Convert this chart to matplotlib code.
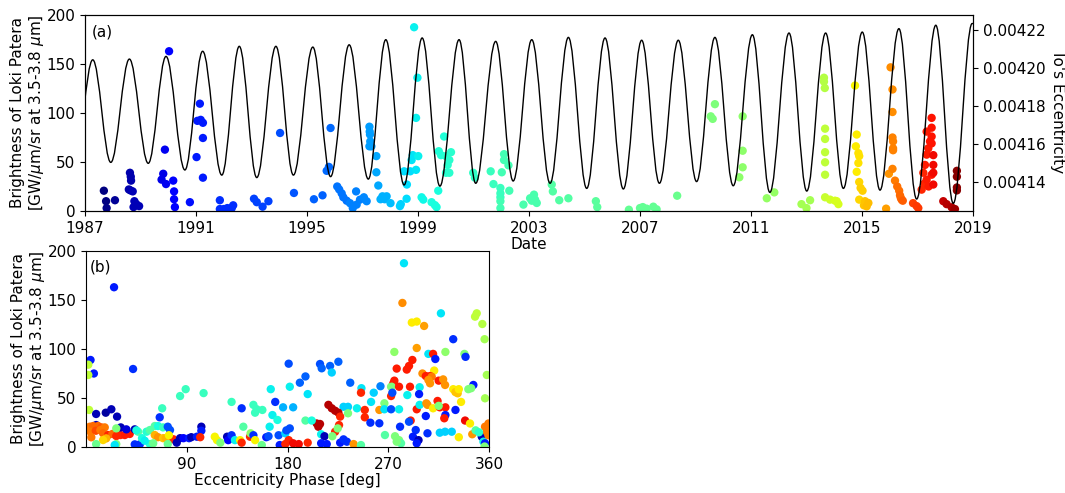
import matplotlib
matplotlib.use("Agg")
import matplotlib.pyplot as plt
from matplotlib.path import Path
from matplotlib.patches import PathPatch
from matplotlib.ticker import FormatStrFormatter

# ---------------- data ----------------
# panel (a): observation date, brightness, colour value (0..1 on jet)
date_a = [1987.68, 1987.76, 1987.78, 1988.08, 1988.62, 1988.65, 1988.66, 1988.58, 1988.64, 1988.72,
          1988.78, 1988.85, 1988.75, 1988.95, 1989.76, 1989.82, 1989.88, 1989.92, 1990.03, 1990.18,
          1990.21, 1990.21, 1990.24, 1990.78, 1991.02, 1991.05, 1991.14, 1991.17, 1991.25, 1991.25,
          1991.25, 1991.86, 1991.86, 1992.00, 1992.13, 1992.29, 1992.34, 1993.09, 1993.19, 1993.40,
          1993.61, 1994.03, 1994.53, 1995.25, 1995.56, 1995.71, 1995.79, 1995.85, 1996.09, 1996.16,
          1996.25, 1996.31, 1996.43, 1996.55, 1996.65, 1996.77, 1996.79, 1996.91, 1997.05, 1997.15,
          1997.25, 1997.26, 1997.27, 1997.28, 1997.25, 1997.32, 1997.50, 1997.50, 1997.57, 1997.65,
          1997.72, 1997.80, 1997.87, 1998.01, 1998.35, 1998.38, 1998.50, 1998.59, 1998.60, 1998.72,
          1998.77, 1998.81, 1998.86, 1998.93, 1998.93, 1998.98, 1999.01, 1999.13, 1999.19, 1999.49,
          1999.61, 1999.67, 1999.73, 1999.75, 1999.83, 1999.94, 2000.01, 2000.01, 2000.07, 2000.13,
          2000.13, 2000.19, 2000.99, 2001.05, 2001.62, 2001.72, 2001.97, 2001.97, 2001.97, 2001.97,
          2001.97, 2002.02, 2002.10, 2002.10, 2002.26, 2002.29, 2002.80, 2003.04, 2003.10, 2003.18,
          2003.22, 2003.28, 2003.82, 2003.86, 2004.09, 2004.42, 2005.41, 2005.46, 2006.60, 2007.00,
          2007.10, 2007.24, 2007.48, 2007.60, 2008.34, 2009.55, 2009.62, 2009.70, 2010.58, 2010.70,
          2010.70, 2010.70, 2011.57, 2011.84, 2012.82, 2013.00, 2013.13, 2013.63, 2013.63, 2013.66,
          2013.67, 2013.67, 2013.67, 2013.67, 2013.67, 2013.67, 2013.85, 2014.03, 2014.09, 2014.15,
          2014.75, 2014.78, 2014.81, 2014.81, 2014.87, 2014.87, 2014.90, 2014.90, 2014.90, 2014.95,
          2015.02, 2015.07, 2015.11, 2015.17, 2015.23, 2015.87, 2015.97, 2016.03, 2016.10, 2016.10,
          2016.10, 2016.12, 2016.12, 2016.12, 2016.10, 2016.19, 2016.27, 2016.34, 2016.37, 2016.40,
          2016.43, 2016.47, 2016.84, 2016.97, 2017.03, 2017.15, 2017.21, 2017.25, 2017.27, 2017.33,
          2017.33, 2017.33, 2017.39, 2017.40, 2017.45, 2017.51, 2017.51, 2017.51, 2017.51, 2017.51,
          2017.57, 2017.57, 2017.57, 2017.57, 2017.93, 2018.05, 2018.23, 2018.35, 2018.42, 2018.42,
          2018.42, 2018.42]
bright_a = [20.7, 10, 3, 11, 39, 35, 31, 22, 21, 20,
            10, 7, 4, 5, 32, 38, 62.6, 27.5, 163, 31,
            20, 12, 4, 9, 55, 92, 109.5, 93, 90, 74.5,
            34, 11, 2, 2, 3, 3, 5.8, 12.5, 9, 4.4,
            10, 79.6, 18.4, 12, 16, 41, 45, 84.7, 25, 22,
            18, 14, 10.5, 8, 3, 20, 6.5, 11.6, 14, 10,
            86, 81, 78, 71, 66, 66, 56, 39.5, 26, 12,
            15, 12, 15, 8, 5, 7, 40.5, 12.5, 27, 40.5,
            52, 57, 187.5, 42, 95, 136, 56, 14, 11.6, 9,
            6, 4, 20.7, 61, 57, 76, 56, 39, 47, 52,
            39, 60, 39, 34, 40.5, 27.5, 23.5, 18, 14, 10,
            3, 39.5, 58, 52, 46.6, 20.7, 6.5, 13, 10.5, 16.7,
            11.6, 8.2, 27, 20, 11, 13, 10, 4, 1.3, 3,
            4, 2.4, 4.4, 1.7, 15.6, 96.6, 94, 109, 34.4, 44.6,
            61.5, 96.6, 13, 19, 7, 3, 11, 136, 132, 125.5,
            84, 73.5, 60, 49.7, 37, 14, 11.6, 10.5, 10, 7,
            128, 66, 78, 40, 59, 49, 56, 29.6, 11.6, 23.5,
            20.7, 5.8, 10, 4.8, 8.2, 2.4, 38, 146.6, 124, 101,
            75, 71, 64, 62, 43, 31, 25, 20.7, 16, 13.3,
            11.5, 10.5, 8, 5, 3, 21.8, 39, 28, 47, 57.5,
            81, 32, 64, 25, 71, 76, 85, 95, 69, 37,
            57, 47, 39, 27, 10, 7, 3.8, 2, 41, 35,
            24, 21]
color_a = [0.00, 0.00, 0.01, 0.02, 0.04, 0.04, 0.04, 0.04, 0.04, 0.05,
           0.05, 0.05, 0.05, 0.05, 0.09, 0.09, 0.10, 0.10, 0.12, 0.12,
           0.12, 0.12, 0.12, 0.14, 0.15, 0.15, 0.15, 0.15, 0.15, 0.15,
           0.15, 0.17, 0.17, 0.17, 0.17, 0.17, 0.17, 0.19, 0.19, 0.19,
           0.19, 0.20, 0.21, 0.22, 0.22, 0.23, 0.23, 0.23, 0.24, 0.24,
           0.24, 0.24, 0.24, 0.25, 0.25, 0.25, 0.25, 0.25, 0.26, 0.26,
           0.28, 0.28, 0.28, 0.28, 0.28, 0.28, 0.29, 0.29, 0.29, 0.30,
           0.30, 0.30, 0.30, 0.31, 0.33, 0.33, 0.34, 0.34, 0.34, 0.34,
           0.35, 0.35, 0.36, 0.35, 0.36, 0.36, 0.36, 0.37, 0.37, 0.38,
           0.38, 0.38, 0.38, 0.39, 0.39, 0.39, 0.40, 0.40, 0.40, 0.40,
           0.40, 0.40, 0.41, 0.41, 0.42, 0.42, 0.42, 0.42, 0.42, 0.43,
           0.43, 0.43, 0.43, 0.43, 0.43, 0.43, 0.44, 0.44, 0.44, 0.44,
           0.44, 0.44, 0.45, 0.45, 0.45, 0.45, 0.46, 0.46, 0.47, 0.47,
           0.47, 0.47, 0.47, 0.47, 0.48, 0.50, 0.50, 0.50, 0.52, 0.52,
           0.52, 0.52, 0.53, 0.53, 0.55, 0.55, 0.55, 0.57, 0.57, 0.57,
           0.58, 0.58, 0.58, 0.58, 0.58, 0.59, 0.60, 0.61, 0.61, 0.61,
           0.65, 0.66, 0.66, 0.66, 0.67, 0.67, 0.67, 0.68, 0.68, 0.69,
           0.69, 0.70, 0.70, 0.71, 0.71, 0.74, 0.75, 0.76, 0.76, 0.76,
           0.77, 0.77, 0.77, 0.77, 0.77, 0.78, 0.79, 0.79, 0.80, 0.80,
           0.80, 0.81, 0.84, 0.85, 0.85, 0.87, 0.87, 0.87, 0.88, 0.88,
           0.88, 0.88, 0.88, 0.88, 0.89, 0.89, 0.89, 0.89, 0.89, 0.89,
           0.90, 0.90, 0.90, 0.90, 0.94, 0.95, 0.96, 0.97, 0.99, 0.99,
           0.99, 0.99]

# Io's eccentricity: successive extrema (date, eccentricity)
ecc_date = [1986.62, 1987.28, 1987.93, 1988.60, 1989.28, 1989.92, 1990.60, 1991.24, 1991.93, 1992.56,
            1993.19, 1993.88, 1994.51, 1995.21, 1995.85, 1996.52, 1997.21, 1997.84, 1998.50, 1999.15,
            1999.79, 2000.48, 2001.08, 2001.80, 2002.43, 2003.10, 2003.76, 2004.42, 2005.08, 2005.74,
            2006.40, 2007.06, 2007.70, 2008.38, 2009.04, 2009.70, 2010.36, 2011.05, 2011.68, 2012.37,
            2013.01, 2013.69, 2014.33, 2015.01, 2015.65, 2016.33, 2016.97, 2017.66, 2018.29, 2018.97]
ecc_value = [0.0041500, 0.0042043, 0.0041503, 0.0042047, 0.0041498, 0.0042061, 0.0041463, 0.0042088,
             0.0041436, 0.0042114, 0.0041423, 0.0042114, 0.0041436, 0.0042110, 0.0041428, 0.0042122,
             0.0041415, 0.0042149, 0.0041384, 0.0042158, 0.0041378, 0.0042149, 0.0041393, 0.0042140,
             0.0041405, 0.0042149, 0.0041393, 0.0042161, 0.0041366, 0.0042158, 0.0041363, 0.0042146,
             0.0041393, 0.0042146, 0.0041402, 0.0042161, 0.0041380, 0.0042175, 0.0041345, 0.0042184,
             0.0041352, 0.0042184, 0.0041366, 0.0042189, 0.0041357, 0.0042207, 0.0041310, 0.0042225,
             0.0041287, 0.0042234]

# panel (b): eccentricity phase, brightness, colour value
phase_b = [4, 2, 7, 2, 25, 42, 2.7, 9, 17.6, 22.6, 27.7, 9,
           3.3, 6.3, 10.7, 13.7, 16.7, 3.9, 8.7, 12.8, 15.2, 19.7, 23.5, 27, 30.7, 34.6, 39, 18, 4.7, 15.2,
           31, 36, 43.5, 27, 46.5, 54, 57, 61.4, 64.3, 68.8, 73, 75, 61.4, 64.3, 68.8, 71.2, 78, 74,
           84, 87, 92, 81, 43.5, 48, 57, 60, 73, 27, 25.6, 9, 50, 52.4, 45, 68, 65.8, 84, 89,
           105, 94, 99, 103, 103, 102, 115, 117, 120, 126, 127, 130, 130, 133, 137.6, 139, 140.5, 139,
           146.5, 147, 149.5, 151, 149.5, 152.5, 151, 157.5, 157, 161, 163, 165, 169, 166.5, 171, 164,
           172, 176, 178, 179, 181, 182, 182, 173, 178, 181,
           209, 210.5, 218, 225.4, 219.5, 196, 191, 198, 185, 236, 246, 257, 263, 245.6, 254.6, 266.5,
           272.5, 272.5, 230, 234, 242, 216.5, 219.5, 222.5, 225.4, 227, 234, 249, 249, 254, 262, 262,
           266.5, 206, 209, 207.5, 196, 201.6, 226, 222.5, 224.8, 210, 213, 220, 185, 190, 198, 210,
           215, 227, 230, 233, 239, 245.6, 267,
           284, 282.6, 317, 291, 295.4, 302, 349, 347.5, 354, 356, 328, 295.4, 275.4, 321, 305.8, 310,
           312, 338, 339, 291.5, 288.5, 286.5, 277.5, 311, 300.5, 303.5, 307.3, 308.8, 358, 275.4,
           274.5, 305.8, 307.3, 315, 319, 320.7, 273, 279.6, 289.4, 298, 346, 344, 341.5, 328, 330,
           332, 333, 273.6, 287, 297.5, 314, 335, 356.4, 272.5, 279.6, 295.4, 298, 305, 304, 310,
           316, 321, 315, 330, 303.5, 321, 320, 338.6, 290, 288.5, 280.5, 294.5, 305, 316, 320.7,
           326.7, 333, 343, 276, 279.6, 281.4, 277.5, 292, 297, 295.4, 345, 353.5, 355, 356.4, 356.4,
           358, 359.4, 359.5, 348, 351, 356]
bright_b = [88.8, 84, 75, 73.5, 163, 79.6, 37.8, 33.7, 35, 38.5, 31, 22.4,
            20.7, 21.4, 21.4, 20, 20, 15.6, 16.6, 17.3, 14, 12.2, 13.3, 11.2, 12.2, 12.2, 13.3, 8.8, 9.9, 7.1,
            20, 18, 18, 19, 15.6, 15.6, 17.3, 21.4, 21.4, 20, 20.7, 17.3, 12.2, 10, 9, 9, 7.9, 12,
            9, 9, 9, 4.4, 2.7, 2.7, 3, 3.8, 3, 3, 2, 3, 9, 6.4, 17, 39.5, 30.3, 52, 59,
            55, 10, 10.5, 20.7, 16.6, 10, 10.5, 7, 4.4, 10.5, 7, 12, 46, 7, 7, 4.4, 20.7, 39.5,
            10.5, 14, 12, 7, 43, 38.5, 35, 37.8, 2, 10, 11, 59, 46, 32.6, 27.6, 20.7,
            12, 40.5, 14, 17, 85, 61.5, 19, 2, 3, 7,
            84.7, 80.3, 82.7, 87, 76, 72, 65.6, 54, 40.5, 65.6, 60, 55.4, 62, 55.4, 46, 44.6,
            52, 61.5, 41, 41, 39.5, 43, 39.5, 37, 35, 31, 34.4, 37.8, 30.3, 24.8, 24.2, 37.8,
            38.5, 24, 23.5, 20.7, 27, 27, 22.4, 15.6, 19, 13, 11, 11, 3.8, 3, 4.4, 3.8,
            3, 4.4, 7.8, 5.4, 3, 2, 12.2,
            187.5, 147, 136.4, 127, 128, 123.5, 136.4, 133, 125.5, 110, 110, 101, 97, 97, 95, 95,
            89.8, 95, 92, 88.8, 82.7, 79, 80, 78, 75, 72.4, 72.4, 71.7, 73.5, 67.7,
            65, 68.4, 65, 67.7, 69, 63.3, 61.5, 61.5, 61.5, 61, 63.3, 60, 59, 59, 56,
            54.8, 59, 55.4, 53, 54, 47, 46, 49.7, 38.5, 38.5, 38.5, 43, 43, 44.6, 39.5,
            40.5, 40.5, 42, 37.8, 31.6, 32.6, 29.3, 27, 27, 25.8, 20.7, 17.3, 14, 14.6, 15.6,
            15.6, 10, 24, 11, 7, 3.8, 5.4, 10.5, 7, 3.8, 13, 10.5, 5.4, 3.8, 20.7,
            15.6, 12, 24, 17, 15, 0.5]
color_b = [0.15, 0.58, 0.15, 0.58, 0.15, 0.17, 0.58, 0.05, 0.03, 0.05, 0.05, 0.05,
           0.78, 0.80, 0.80, 0.82, 0.78, 0.78, 0.83, 0.78, 0.80, 0.87, 0.80, 0.87, 0.87, 0.88, 0.88, 0.72, 0.78, 0.68,
           0.05, 0.08, 0.05, 0.50, 0.45, 0.40, 0.45, 0.45, 0.38, 0.42, 0.20, 0.20, 0.72, 0.75, 0.70, 0.72, 0.87, 0.65,
           0.05, 0.12, 0.15, 0.05, 0.17, 0.17, 0.40, 0.48, 0.48, 0.50, 0.35, 0.48, 0.38, 0.36, 0.38, 0.42, 0.17, 0.42, 0.42,
           0.42, 0.05, 0.15, 0.05, 0.15, 0.87, 0.65, 0.65, 0.50, 0.05, 0.12, 0.17, 0.42, 0.36, 0.65, 0.87, 0.45, 0.17,
           0.87, 0.52, 0.17, 0.65, 0.42, 0.42, 0.42, 0.42, 0.48, 0.15, 0.20, 0.36, 0.17, 0.36, 0.38, 0.36,
           0.20, 0.30, 0.33, 0.20, 0.20, 0.36, 0.20, 0.15, 0.87, 0.87,
           0.20, 0.22, 0.22, 0.22, 0.33, 0.22, 0.22, 0.35, 0.30, 0.22, 0.35, 0.33, 0.25, 0.87, 0.35, 0.50,
           0.87, 0.50, 0.33, 0.33, 0.36, 0.95, 0.95, 0.95, 0.95, 0.87, 0.50, 0.87, 0.87, 0.17, 0.17, 0.75,
           0.35, 0.95, 0.95, 0.95, 0.45, 0.38, 0.87, 0.87, 0.50, 0.36, 0.05, 0.50, 0.90, 0.90, 0.87, 0.15,
           0.15, 0.15, 0.17, 0.17, 0.75, 0.45, 0.45,
           0.35, 0.76, 0.35, 0.66, 0.66, 0.74, 0.58, 0.58, 0.57, 0.55, 0.17, 0.74, 0.52, 0.52, 0.35, 0.88,
           0.15, 0.50, 0.17, 0.88, 0.88, 0.88, 0.88, 0.66, 0.76, 0.88, 0.88, 0.78, 0.55, 0.88,
           0.88, 0.75, 0.75, 0.88, 0.75, 0.75, 0.50, 0.88, 0.88, 0.36, 0.15, 0.50, 0.50, 0.66, 0.70,
           0.70, 0.66, 0.20, 0.36, 0.15, 0.88, 0.66, 0.55, 0.20, 0.36, 0.88, 0.36, 0.75, 0.75, 0.66,
           0.88, 0.88, 0.50, 0.15, 0.15, 0.15, 0.88, 0.90, 0.88, 0.20, 0.17, 0.17, 0.17, 0.33, 0.33,
           0.33, 0.66, 0.66, 0.50, 0.50, 0.45, 0.50, 0.15, 0.05, 0.15, 0.75, 0.05, 0.36, 0.15, 0.78,
           0.78, 0.78, 0.78, 0.45, 0.40, 0.50]

year_ticks = [1987, 1991, 1995, 1999, 2003, 2007, 2011, 2015, 2019]
bright_ticks = [0, 50, 100, 150, 200]
ecc_ticks = [0.00414, 0.00416, 0.00418, 0.00420, 0.00422]
phase_ticks = [90, 180, 270, 360]

ylabel_text = "Brightness of Loki Patera\n[GW/$\\mu$m/sr at 3.5-3.8 $\\mu$m]"

# ---------------- figure ----------------
plt.rcParams['font.family'] = ['DejaVu Sans']
plt.rcParams['font.size'] = 11
fig = plt.figure(figsize=(10.65, 4.93), dpi=100)

ax_a = fig.add_axes([0.0798, 0.572, 0.8338, 0.3976])
ax_a.scatter(date_a, bright_a, c=color_a, cmap='jet', vmin=0, vmax=1, s=36,
             linewidths=0, zorder=2)
ax_a.set_xlim(1987, 2019)
ax_a.set_ylim(0, 200)
ax_a.set_xticks(year_ticks)
ax_a.set_yticks(bright_ticks)
ax_a.set_xlabel("Date", labelpad=1)
ax_a.set_ylabel(ylabel_text, labelpad=0)
ax_a.text(0.008, 0.915, "(a)", transform=ax_a.transAxes, ha='left', va='center', fontsize=11)

ax_e = ax_a.twinx()
k = 0.364
verts = [(ecc_date[0], ecc_value[0])]
codes = [Path.MOVETO]
for i in range(1, len(ecc_date)):
    t0, e0 = ecc_date[i - 1], ecc_value[i - 1]
    t1, e1 = ecc_date[i], ecc_value[i]
    dt = t1 - t0
    verts += [(t0 + k * dt, e0), (t1 - k * dt, e1), (t1, e1)]
    codes += [Path.CURVE4] * 3
verts.append((2019.5, ecc_value[-1]))
codes.append(Path.LINETO)
ax_e.add_patch(PathPatch(Path(verts, codes), fill=False, edgecolor='black', lw=1.0))
ax_e.set_ylim(0.0041247, 0.0042279)
ax_e.set_xlim(1987, 2019)
ax_e.set_yticks(ecc_ticks)
ax_e.yaxis.set_major_formatter(FormatStrFormatter('%.5f'))
ax_e.set_ylabel("Io's Eccentricity", rotation=270, va='bottom', labelpad=3)

ax_b = fig.add_axes([0.0808, 0.0933, 0.3784, 0.3976])
ax_b.scatter(phase_b, bright_b, c=color_b, cmap='jet', vmin=0, vmax=1, s=36,
             linewidths=0, zorder=2)
ax_b.set_xlim(0, 360)
ax_b.set_ylim(0, 200)
ax_b.set_xticks(phase_ticks)
ax_b.set_yticks(bright_ticks)
ax_b.set_xlabel("Eccentricity Phase [deg]", labelpad=1)
ax_b.set_ylabel(ylabel_text, labelpad=0)
ax_b.text(0.008, 0.92, "(b)", transform=ax_b.transAxes, ha='left', va='center', fontsize=11)

fig.savefig("out.png", dpi=100)
